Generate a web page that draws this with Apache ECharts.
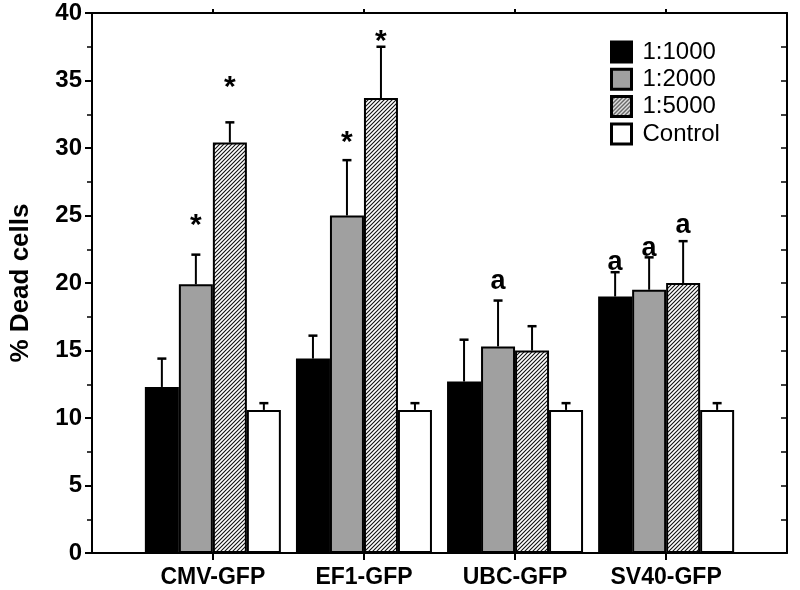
<!DOCTYPE html>
<html>
<head>
<meta charset="utf-8">
<script src="https://cdn.jsdelivr.net/npm/echarts@6/dist/echarts.min.js"></script>
<style>html,body{margin:0;padding:0;background:#fff}#c{width:800px;height:590px}</style>
</head>
<body>
<div id="c"></div>
<script>
// ---- data ----
const categories = ['CMV-GFP', 'EF1-GFP', 'UBC-GFP', 'SV40-GFP'];
const seriesNames = ['1:1000', '1:2000', '1:5000', 'Control'];
const mean1000 = [12.3, 14.4, 12.7, 19.0];
const mean2000 = [19.9, 25.0, 15.3, 19.5];
const mean5000 = [30.4, 33.7, 15.0, 20.0];
const meanCtrl = [10.6, 10.6, 10.6, 10.6];
const err1000 = [2.1, 1.7, 3.1, 1.8];
const err2000 = [2.2, 4.1, 3.4, 2.4];
const err5000 = [1.5, 3.8, 1.8, 3.1];
const errCtrl = [0.5, 0.5, 0.5, 0.5];
// significance marks and the height (in % units) at which each is printed
const mark1000 = ['', '', '', 'a'];
const mark2000 = ['*', '*', 'a', 'a'];
const mark5000 = ['*', '*', '', 'a'];
const markCtrl = ['', '', '', ''];
const markY1000 = [0, 0, 0, 21.6];
const markY2000 = [24.5, 30.6, 20.2, 22.6];
const markY5000 = [34.7, 38.1, 0, 24.3];
const markYCtrl = [0, 0, 0, 0];
const yTicks = [0, 5, 10, 15, 20, 25, 30, 35, 40];

const means = [mean1000, mean2000, mean5000, meanCtrl];
const errs = [err1000, err2000, err5000, errCtrl];
const marks = [mark1000, mark2000, mark5000, markCtrl];
const markYs = [markY1000, markY2000, markY5000, markYCtrl];

// hatch pattern
const P = 4;
const pc = document.createElement('canvas');
pc.width = P; pc.height = P;
const g = pc.getContext('2d');
g.fillStyle = '#fff'; g.fillRect(0, 0, P, P);
g.strokeStyle = '#111'; g.lineWidth = 1.1;
g.beginPath();
g.moveTo(-1, P + 1); g.lineTo(P + 1, -1);
g.moveTo(-1, 1); g.lineTo(1, -1);
g.moveTo(P - 1, P + 1); g.lineTo(P + 1, P - 1);
g.stroke();

const fills = ['#000', '#a0a0a0', {image: pc, repeat: 'repeat'}, '#fff'];
const BAR_W = 34;
const FONT = 'Liberation Sans, Arial, sans-serif';

const barSeries = seriesNames.map((name, s) => ({
  name, type: 'bar', xAxisIndex: 0, yAxisIndex: 0,
  barWidth: BAR_W, barGap: '0%',
  itemStyle: {color: fills[s], borderColor: '#000', borderWidth: 2},
  data: means[s].map((v, i) => [i, v]),
  z: 2
}));

const errData = [];
means.forEach((arr, s) => arr.forEach((v, i) =>
  errData.push([i, s, v, v + errs[s][i], markYs[s][i], marks[s][i]])));

const errSeries = {
  type: 'custom', xAxisIndex: 0, yAxisIndex: 0, z: 3,
  data: errData,
  encode: {x: 0, y: 3},
  renderItem: (params, api) => {
    const cat = api.value(0), s = api.value(1), v = api.value(2), top = api.value(3), my = api.value(4);
    const mk = errData[params.dataIndex][5];
    const x = api.coord([cat, 0])[0] + (s - 1.5) * BAR_W;
    const y0 = api.coord([cat, v])[1];
    const y1 = api.coord([cat, top])[1];
    const children = [
      {type: 'line', shape: {x1: x, y1: y0, x2: x, y2: y1}, style: {stroke: '#000', lineWidth: 2}},
      {type: 'line', shape: {x1: x - 4.5, y1: y1, x2: x + 4.5, y2: y1}, style: {stroke: '#000', lineWidth: 2.5}}
    ];
    if (mk) {
      const ym = api.coord([cat, my])[1];
      children.push({type: 'text', x: x, y: mk === '*' ? ym + 3 : ym + 1,
        style: {text: mk, font: 'bold ' + (mk === '*' ? 30 : 27) + 'px ' + FONT, fill: '#000',
          textAlign: 'center', textVerticalAlign: 'middle'}});
    }
    return {type: 'group', children};
  }
};

const chart = echarts.init(document.getElementById('c'));
chart.setOption({
  animation: false,
  backgroundColor: '#fff',
  grid: {left: 87, right: 13, top: 13, bottom: 37},
  legend: {
    orient: 'vertical', left: 605, top: 35, itemWidth: 20, itemHeight: 20, itemGap: 3.3,
    data: seriesNames, icon: 'rect',
    itemStyle: {borderWidth: 3, borderColor: '#000'},
    textStyle: {fontSize: 24, fontFamily: FONT, color: '#000', padding: [0, 0, 0, 6]},
    selectedMode: false
  },
  xAxis: [{
    type: 'value', min: -0.8, max: 3.8, position: 'bottom',
    axisLine: {show: true, onZero: false, lineStyle: {color: '#000', width: 2}},
    axisTick: {show: true, inside: false, length: 7, customValues: [0, 1, 2, 3], lineStyle: {color: '#000', width: 2}},
    axisLabel: {show: true, customValues: [0, 1, 2, 3], formatter: v => categories[Math.round(v)] || '',
      fontSize: 23, fontWeight: 'bold', fontFamily: FONT, color: '#000', margin: 13},
    splitLine: {show: false}
  }, {
    type: 'value', min: -0.8, max: 3.8, position: 'top',
    axisLine: {show: true, onZero: false, lineStyle: {color: '#000', width: 2}},
    axisTick: {show: true, inside: false, length: 4, customValues: [0, 1, 2, 3], lineStyle: {color: '#000', width: 2}},
    axisLabel: {show: false}, splitLine: {show: false}
  }],
  yAxis: [{
    type: 'value', min: 0, max: 40, interval: 5, position: 'left',
    name: '% Dead cells', nameLocation: 'middle', nameGap: 58,
    nameTextStyle: {fontSize: 26, fontWeight: 'bold', fontFamily: FONT, color: '#000'},
    axisLine: {show: true, onZero: false, lineStyle: {color: '#000', width: 2}},
    axisTick: {show: true, inside: false, length: 7, lineStyle: {color: '#000', width: 2}},
    minorTick: {show: true, splitNumber: 2, length: 5, lineStyle: {color: '#000', width: 1.5}},
    axisLabel: {fontSize: 24, fontWeight: 'bold', fontFamily: FONT, color: '#000', margin: 10,
      customValues: yTicks},
    splitLine: {show: false}
  }, {
    type: 'value', min: 0, max: 40, interval: 2.5, position: 'right',
    axisLine: {show: true, onZero: false, lineStyle: {color: '#000', width: 2}},
    axisTick: {show: true, inside: true, length: 6, lineStyle: {color: '#000', width: 1.5}},
    axisLabel: {show: false}, splitLine: {show: false}
  }],
  series: [...barSeries, errSeries]
});
</script>
</body>
</html>
